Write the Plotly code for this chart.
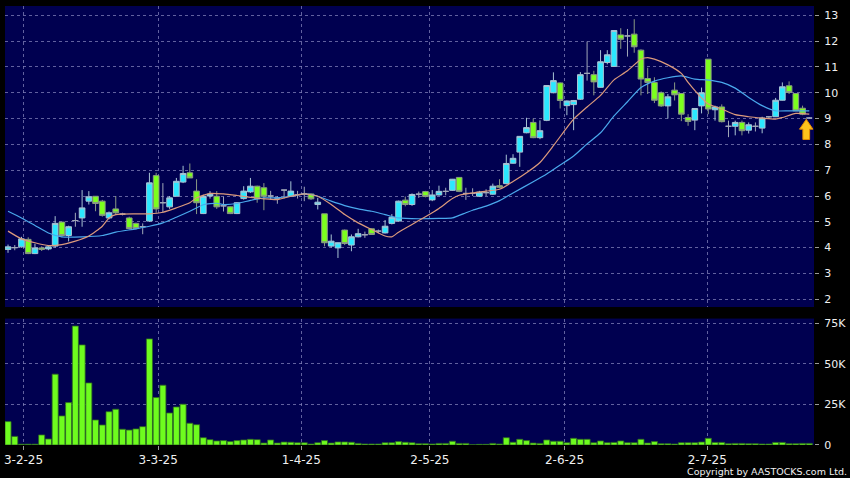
import plotly.graph_objects as go

# ---------------- data ----------------
opens = [3.93, 4.00, 4.03, 4.32, 3.77, 3.99, 3.95, 4.06, 4.99, 4.47,
         5.05, 5.15, 5.80, 5.99, 5.80, 5.15, 5.50, 5.30, 5.15, 4.94,
         4.81, 5.03, 6.79, 5.74, 5.58, 5.99, 6.54, 6.90, 6.19, 5.32,
         6.00, 5.99, 5.62, 5.58, 5.32, 5.90, 6.16, 6.38, 6.32, 6.00,
         5.92, 6.23, 5.99, 6.05, 6.08, 6.08, 5.67, 5.31, 4.06, 3.99,
         4.68, 4.10, 4.42, 4.50, 4.73, 4.64, 4.57, 4.94, 5.03, 5.84,
         5.67, 6.07, 6.17, 5.85, 6.04, 6.18, 6.22, 6.72, 6.10, 6.10,
         5.99, 6.13, 6.07, 6.40, 6.48, 7.27, 7.70, 8.45, 8.85, 8.26,
         8.93, 10.00, 10.38, 9.50, 9.54, 9.75, 10.75, 10.70, 10.21, 11.17,
         11.02, 12.24, 12.20, 12.27, 11.65, 10.55, 10.40, 10.00, 9.49, 10.10,
         9.97, 9.04, 8.94, 9.49, 11.30, 9.34, 9.45, 8.70, 8.70, 8.85,
         8.55, 8.70, 8.63, 9.07, 9.07, 9.71, 10.27, 9.97, 9.40, 9.02]
highs = [4.12, 4.10, 4.42, 4.40, 4.15, 4.05, 4.07, 5.22, 5.00, 4.85,
         5.35, 6.23, 6.19, 6.00, 5.85, 5.40, 6.00, 5.35, 5.20, 4.97,
         4.94, 6.90, 6.90, 6.50, 6.00, 6.70, 7.17, 7.26, 6.65, 6.05,
         6.19, 6.19, 5.97, 5.60, 5.76, 6.38, 6.70, 6.40, 6.50, 6.20,
         6.00, 6.23, 6.57, 6.20, 6.36, 6.10, 5.93, 5.31, 4.51, 4.20,
         4.70, 4.51, 4.73, 4.62, 4.75, 4.70, 5.07, 5.30, 5.82, 5.98,
         6.10, 6.17, 6.20, 6.23, 6.40, 6.32, 6.66, 6.73, 6.32, 6.30,
         6.20, 6.26, 6.48, 6.65, 7.60, 7.62, 8.31, 9.03, 9.00, 8.93,
         10.30, 10.79, 10.40, 9.70, 9.72, 10.80, 11.98, 10.85, 11.65, 11.65,
         12.42, 12.50, 12.47, 12.85, 11.68, 10.97, 10.60, 10.05, 9.95, 10.40,
         9.97, 9.17, 9.39, 10.20, 11.30, 9.50, 9.55, 8.92, 8.92, 8.92,
         8.85, 8.85, 9.07, 9.10, 9.80, 10.40, 10.44, 9.99, 9.50, 9.05]
lows = [3.80, 3.90, 4.00, 3.75, 3.75, 3.87, 3.90, 4.00, 4.40, 4.24,
        4.81, 4.81, 5.67, 5.41, 5.20, 5.10, 5.28, 5.25, 4.70, 4.70,
        4.52, 5.00, 5.35, 5.35, 5.50, 5.99, 6.50, 6.70, 5.30, 5.30,
        5.90, 5.50, 5.40, 5.30, 5.30, 5.86, 6.12, 5.74, 5.45, 5.85,
        5.70, 5.90, 5.99, 5.90, 5.80, 5.85, 5.48, 4.05, 4.00, 3.60,
        4.10, 3.86, 4.40, 4.38, 4.50, 4.55, 4.55, 4.90, 5.00, 5.60,
        5.62, 5.93, 5.95, 5.80, 6.02, 6.03, 6.20, 6.15, 5.85, 6.00,
        5.97, 6.00, 6.05, 6.30, 6.45, 7.25, 7.13, 8.43, 8.24, 8.20,
        8.90, 9.98, 9.39, 9.13, 8.55, 9.72, 10.47, 9.90, 10.20, 11.10,
        11.00, 11.70, 11.40, 11.55, 9.90, 9.95, 9.60, 9.45, 9.00, 9.70,
        8.90, 8.72, 8.55, 9.20, 9.17, 8.92, 8.85, 8.28, 8.35, 8.35,
        8.42, 8.50, 8.43, 9.00, 9.07, 9.70, 9.95, 9.30, 9.13, 9.00]
closes = [4.03, 4.00, 4.34, 3.77, 3.99, 3.93, 4.03, 4.94, 4.47, 4.81,
          5.05, 5.54, 5.97, 5.71, 5.25, 5.35, 5.35, 5.30, 4.74, 4.74,
          4.81, 6.51, 5.50, 5.74, 5.93, 6.57, 6.87, 6.70, 5.74, 5.99,
          6.07, 5.58, 5.62, 5.32, 5.74, 6.19, 6.38, 5.89, 5.99, 6.00,
          5.92, 6.23, 6.19, 6.05, 6.08, 5.89, 5.76, 4.19, 4.25, 4.19,
          4.16, 4.42, 4.54, 4.50, 4.51, 4.64, 4.83, 5.18, 5.80, 5.67,
          6.06, 6.07, 5.98, 6.04, 6.18, 6.18, 6.65, 6.18, 6.10, 6.10,
          6.15, 6.13, 6.38, 6.34, 7.26, 7.46, 8.31, 8.65, 8.26, 8.53,
          10.28, 10.47, 9.70, 9.68, 9.70, 10.70, 10.75, 10.42, 11.20, 11.47,
          12.41, 12.07, 12.20, 11.78, 10.53, 10.40, 9.71, 9.49, 9.84, 9.92,
          9.17, 8.89, 9.39, 10.00, 9.37, 9.45, 8.88, 8.70, 8.85, 8.53,
          8.76, 8.70, 9.02, 9.07, 9.71, 10.23, 10.01, 9.30, 9.17, 9.02]
volumes = [14400, 5300, 500, 500, 500, 6200, 3700, 43600, 17900, 26100,
           73200, 61600, 38200, 15400, 12300, 20500, 22000, 9700, 9200, 9900,
           11300, 65300, 29200, 36800, 19700, 23400, 25100, 13400, 12500, 4500,
           3300, 2500, 2700, 2100, 2700, 3100, 3500, 3300, 1200, 3100,
           1200, 1800, 1700, 1400, 1400, 600, 1400, 2700, 1200, 1900,
           1900, 1700, 1000, 600, 600, 600, 1400, 1400, 2100, 1700,
           1400, 800, 800, 600, 1000, 1000, 2300, 1000, 1000, 200,
           400, 400, 1000, 600, 4500, 1700, 3500, 2700, 1200, 1000,
           3100, 2300, 2300, 1400, 4100, 3500, 3500, 1400, 2500, 1400,
           1600, 2500, 1400, 1400, 3500, 1200, 2100, 800, 800, 600,
           1400, 1400, 1400, 1800, 4100, 1600, 1600, 800, 1000, 1000,
           800, 800, 600, 600, 1600, 1600, 800, 800, 1000, 1000]

# moving averages, read at selected bar positions
ma10_idx = [0, 2, 4, 6, 8, 10, 12, 14, 15, 16, 19, 21, 23, 25, 27, 28, 30, 32,
            34, 36, 38, 40, 42, 44, 46, 48, 50, 52, 54, 56, 57, 58, 60, 62, 64,
            66, 67, 69, 71, 73, 75, 77, 79, 81, 83, 84, 86, 88, 90, 92, 94, 95,
            96, 98, 100, 101, 103, 104, 106, 108, 110, 112, 114, 115, 117, 119]
ma10_val = [4.64, 4.34, 4.19, 4.08, 4.12, 4.25, 4.45, 4.83, 5.15, 5.28, 5.31,
            5.31, 5.37, 5.54, 5.74, 5.93, 6.10, 6.08, 6.02, 5.95, 5.89, 5.86,
            5.99, 6.08, 5.99, 5.67, 5.28, 4.96, 4.70, 4.45, 4.42, 4.60, 4.90,
            5.20, 5.52, 5.90, 6.03, 6.12, 6.19, 6.26, 6.56, 6.90, 7.30, 7.95,
            8.65, 8.98, 9.45, 9.90, 10.50, 10.85, 11.30, 11.36, 11.30, 11.08,
            10.75, 10.40, 9.80, 9.56, 9.37, 9.15, 9.07, 9.02, 8.98, 9.04,
            9.20, 9.17]
ma20_idx = [0, 2, 4, 6, 8, 11, 14, 16, 19, 21, 23, 25, 27, 29, 31, 32, 34, 36,
            38, 40, 42, 44, 46, 48, 50, 52, 54, 56, 58, 61, 64, 66, 68, 69, 71,
            73, 75, 78, 80, 82, 84, 86, 88, 90, 92, 94, 96, 98, 100, 102, 104,
            106, 108, 110, 112, 114, 116, 119]
ma20_val = [5.41, 5.15, 4.86, 4.57, 4.42, 4.42, 4.47, 4.60, 4.73, 4.83, 4.96,
            5.18, 5.41, 5.66, 5.72, 5.67, 5.71, 5.83, 5.93, 5.93, 5.99, 6.08,
            5.99, 5.80, 5.63, 5.50, 5.41, 5.28, 5.15, 5.12, 5.13, 5.15, 5.35,
            5.45, 5.61, 5.82, 6.12, 6.55, 6.85, 7.20, 7.55, 8.02, 8.45, 9.10,
            9.65, 10.20, 10.45, 10.58, 10.65, 10.53, 10.49, 10.40, 10.18, 9.82,
            9.50, 9.30, 9.30, 9.30]

tick_pos = [2.3, 22.3, 43.55, 62.65, 82.65, 103.85]
tick_text = ["3-2-25", "3-3-25", "1-4-25", "2-5-25", "2-6-25", "2-7-25"]
price_ticks = [2, 3, 4, 5, 6, 7, 8, 9, 10, 11, 12, 13]
vol_ticks = [0, 25000, 50000, 75000]
vol_tick_text = ["0", "25K", "50K", "75K"]

# ---------------- styling ----------------
BG = "#000050"
GRID = "rgba(130,130,185,0.75)"
CYAN = "#2BE8FF"
LIME = "#7CFF1E"
FONT = "DejaVu Sans"

n = len(closes)
idx = list(range(n))


def subset(cond):
    sel = [i for i in idx if cond(i)]
    return dict(x=sel,
                open=[opens[i] for i in sel], high=[highs[i] for i in sel],
                low=[lows[i] for i in sel], close=[closes[i] for i in sel])


fig = go.Figure()

up = subset(lambda i: closes[i] > opens[i])
dn = subset(lambda i: closes[i] < opens[i])
dj = subset(lambda i: closes[i] == opens[i])

inc_style = dict(fillcolor=CYAN, line=dict(color="#a8c4d4", width=1))
dec_style = dict(fillcolor=LIME, line=dict(color="#8a9a84", width=1))
doji_style = dict(fillcolor="#a0a8b8", line=dict(color="#a0a8b8", width=1))

fig.add_trace(go.Candlestick(**up, xaxis="x", yaxis="y", increasing=inc_style,
                             decreasing=dec_style, whiskerwidth=0, showlegend=False))
fig.add_trace(go.Candlestick(**dn, xaxis="x", yaxis="y", increasing=inc_style,
                             decreasing=dec_style, whiskerwidth=0, showlegend=False))
fig.add_trace(go.Candlestick(**dj, xaxis="x", yaxis="y", increasing=doji_style,
                             decreasing=doji_style, whiskerwidth=0, showlegend=False))

fig.add_trace(go.Scatter(x=ma20_idx, y=ma20_val, mode="lines", xaxis="x", yaxis="y",
                         line=dict(color="#4AA8EC", width=1.2, shape="spline", smoothing=0.6),
                         showlegend=False, hoverinfo="skip"))
fig.add_trace(go.Scatter(x=ma10_idx, y=ma10_val, mode="lines", xaxis="x", yaxis="y",
                         line=dict(color="#DC9A7C", width=1.2, shape="spline", smoothing=0.6),
                         showlegend=False, hoverinfo="skip"))

fig.add_trace(go.Bar(x=idx, y=volumes, xaxis="x2", yaxis="y2",
                     marker=dict(color="#6EFC1E", line=dict(color="#2E6A22", width=0.8)),
                     showlegend=False))

# arrow marking the last bar
ax = n - 1 - 0.45
top = closes[-1] - 0.05
hw, sw, hh, tl = 1.0, 0.5, 0.38, 0.78
path = (f"M {ax} {top} L {ax + hw} {top - hh} L {ax + sw} {top - hh} "
        f"L {ax + sw} {top - tl} L {ax - sw} {top - tl} L {ax - sw} {top - hh} "
        f"L {ax - hw} {top - hh} Z")
fig.add_shape(type="path", path=path, xref="x", yref="y",
              fillcolor="#FFC21C", line=dict(color="#E58A00", width=1))

xr = [-0.45, 119.7]
fig.update_layout(
    width=850, height=478,
    paper_bgcolor="black", plot_bgcolor=BG,
    margin=dict(l=4, r=32, t=5, b=33),
    boxgap=0.16, boxgroupgap=0, bargap=0.1,
    font=dict(family=FONT, color="#F0F0F0", size=11),
    xaxis=dict(domain=[0, 1], anchor="y", range=xr, matches="x2",
               rangeslider=dict(visible=False),
               tickvals=tick_pos, ticktext=tick_text, showticklabels=False,
               ticks="", showgrid=True, gridcolor=GRID, griddash="3px,3px",
               gridwidth=1, zeroline=False, showline=False),
    yaxis=dict(domain=[0.3143, 1], anchor="x", side="right", range=[1.70, 13.36],
               tickvals=price_ticks, ticks="outside", ticklen=4, tickcolor="#9a9a9a",
               ticklabelstandoff=3,
               showgrid=True, gridcolor=GRID, griddash="3px,3px", gridwidth=1,
               zeroline=False, showline=False, tickfont=dict(size=11)),
    xaxis2=dict(domain=[0, 1], anchor="y2", range=xr,
                tickvals=tick_pos, ticktext=tick_text, ticks="outside", ticklen=4,
                tickcolor="#9a9a9a", tickfont=dict(size=12),
                showgrid=True, gridcolor=GRID, griddash="3px,3px", gridwidth=1,
                zeroline=False, showline=False),
    yaxis2=dict(domain=[0, 0.288], anchor="x2", side="right", range=[0, 77800],
                tickvals=vol_ticks, ticktext=vol_tick_text, ticks="outside", ticklen=4,
                tickcolor="#9a9a9a", ticklabelstandoff=3,
                showgrid=True, gridcolor=GRID, griddash="3px,3px", gridwidth=1,
                zeroline=False, showline=False, tickfont=dict(size=11)),
)

fig.add_annotation(text="Copyright by AASTOCKS.com Ltd.", xref="paper", yref="paper",
                   x=1.043, y=-0.0602, xanchor="right", yanchor="middle",
                   showarrow=False, font=dict(family=FONT, size=9.5, color="#F0F0F0"))

fig.write_html(
    "out.html",
    config={"displayModeBar": False},
    post_script="document.body.style.margin='0';document.body.style.background='black';",
)
